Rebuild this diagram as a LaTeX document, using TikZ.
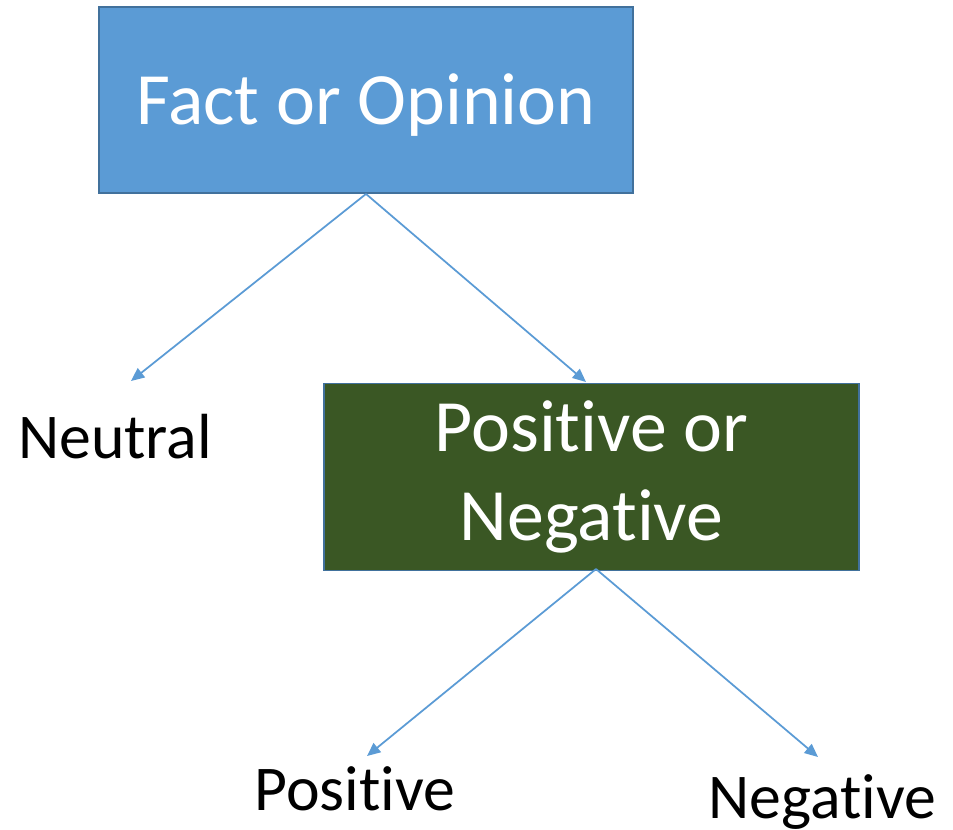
\documentclass[tikz,border=0pt]{standalone}
\usepackage{fontspec}
\setmainfont{Carlito}[RawFeature=-liga]
\usetikzlibrary{arrows.meta}
\definecolor{boxblue}{HTML}{5B9BD5}
\definecolor{edgeblue}{HTML}{41719C}
\definecolor{boxgreen}{HTML}{3A5724}
\begin{document}
\begin{tikzpicture}[x=0.02cm, y=-0.02cm,
    box/.style={draw=edgeblue, line width=1.1pt, text=white, inner sep=0pt,
      font=\fontsize{42}{50.5}\selectfont, align=center},
    lbl/.style={font=\fontsize{36.3}{43}\selectfont, inner sep=0pt, anchor=base},
    arw/.style={draw=boxblue, line width=1pt, -{Triangle[length=7.6pt, width=6.6pt]}}]
    \useasboundingbox (0,0) rectangle (953,829);
    % question boxes
    \node[box, fill=boxblue, minimum width=10.68cm, minimum height=3.72cm,
      text height=1cm, text depth=0pt] (fact) at (366,100) {Fact or Opinion};
    \node[box, fill=boxgreen, minimum width=10.7cm, minimum height=3.74cm] (posneg)
      at (591.5,477) {Positive or\\Negative};
    % answers
    \node[lbl] (neutral) at (115,458) {Neutral};
    \node[lbl] (positive) at (355,810) {Positive};
    \node[lbl] (negative) at (822,818) {Negative};
    % arrow tips
    \coordinate (toneutral) at (131,381);
    \coordinate (toposneg) at (586,382);
    \coordinate (posnegfoot) at (596,569);
    \coordinate (topositive) at (367,756);
    \coordinate (tonegative) at (818,757);
    \draw[arw] (fact.south) -- (toneutral);
    \draw[arw] (fact.south) -- (toposneg);
    \draw[arw] (posnegfoot) -- (topositive);
    \draw[arw] (posnegfoot) -- (tonegative);
  \end{tikzpicture}
\end{document}
